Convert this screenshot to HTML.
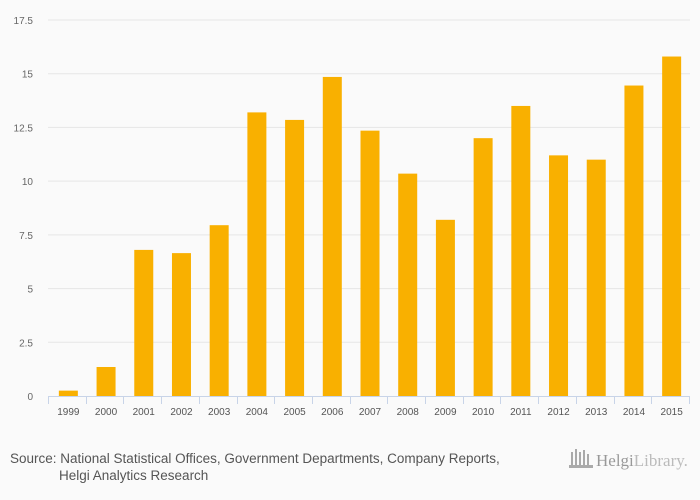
<!DOCTYPE html>
<html><head><meta charset="utf-8"><style>
body{margin:0;background:#fafafa;font-family:"Liberation Sans",sans-serif;}
svg{display:block}
</style></head><body>
<svg id="chart" width="700" height="500">
<rect width="700" height="500" fill="#fafafa"/>
<g id="grid"></g><g id="bars"></g><g id="axes"></g>
<text x="10" y="463" font-size="13.5" fill="#555">Source: National Statistical Offices, Government Departments, Company Reports,</text>
<text x="59" y="480" font-size="13.5" fill="#555">Helgi Analytics Research</text>
<g>
<g fill="#aaa"><rect x="571" y="452" width="2" height="14"/><rect x="575" y="449" width="2" height="17"/><rect x="579" y="452" width="2" height="14"/><rect x="583" y="450" width="2" height="16"/><rect x="587" y="454" width="2" height="12"/><rect x="569" y="465" width="24" height="3"/></g>
<text x="596" y="466" font-size="17" fill="#999" font-family="Liberation Serif,serif">Helgi<tspan fill="#bbb">Library.</tspan></text>
</g>
</svg>
<script>
const categories=["1999","2000","2001","2002","2003","2004","2005","2006","2007","2008","2009","2010","2011","2012","2013","2014","2015"];
const values=[0.25,1.35,6.8,6.65,7.95,13.2,12.85,14.85,12.35,10.35,8.2,12.0,13.5,11.2,11.0,14.45,15.8];
const yTicks=[0,2.5,5,7.5,10,12.5,15,17.5];
const yTickLabels=["0","2.5","5","7.5","10","12.5","15","17.5"];
const NS="http://www.w3.org/2000/svg";
const x0=49,x1=690,y0=396,yTop=20,yMax=17.5;
const band=(x1-x0)/categories.length;
const yScale=v=>y0-(v/yMax)*(y0-yTop);
const xScale=i=>x0+band*i;
function mk(tag,attrs,parent){const e=document.createElementNS(NS,tag);for(const k in attrs)e.setAttribute(k,attrs[k]);document.getElementById(parent).appendChild(e);return e;}
yTicks.forEach((t,i)=>{
  const y=yScale(t);
  if(t>0){const g=mk("line",{x1:48,x2:x1,y1:y,y2:y,stroke:"#e6e6e6","stroke-width":1},"grid");
  
  }
  const tx=mk("text",{x:33,y:y+4,"font-size":10,fill:"#666","text-anchor":"end"},"axes");
  tx.textContent=yTickLabels[i];
  
  
});
values.forEach((v,i)=>{
  const bw=19,cx=xScale(i)+band/2+0.5;
  const r=mk("rect",{x:cx-bw/2,y:yScale(v),width:bw,height:y0-yScale(v),fill:"#f9b000"},"bars");
  
  
  const t=mk("text",{x:cx,y:415,"font-size":10,fill:"#555","text-anchor":"middle"},"axes");
  t.textContent=categories[i];
  
  
});
const ax=mk("line",{x1:48,x2:x1,y1:y0+0.5,y2:y0+0.5,stroke:"#c8d4e8","stroke-width":1},"axes");


for(let i=0;i<=categories.length;i++){
  const x=Math.round(xScale(i))-0.5;
  const tk=mk("line",{x1:x,x2:x,y1:y0,y2:y0+8,stroke:"#c8d4e8","stroke-width":1},"axes");
  
  
}
</script>
</body></html>
